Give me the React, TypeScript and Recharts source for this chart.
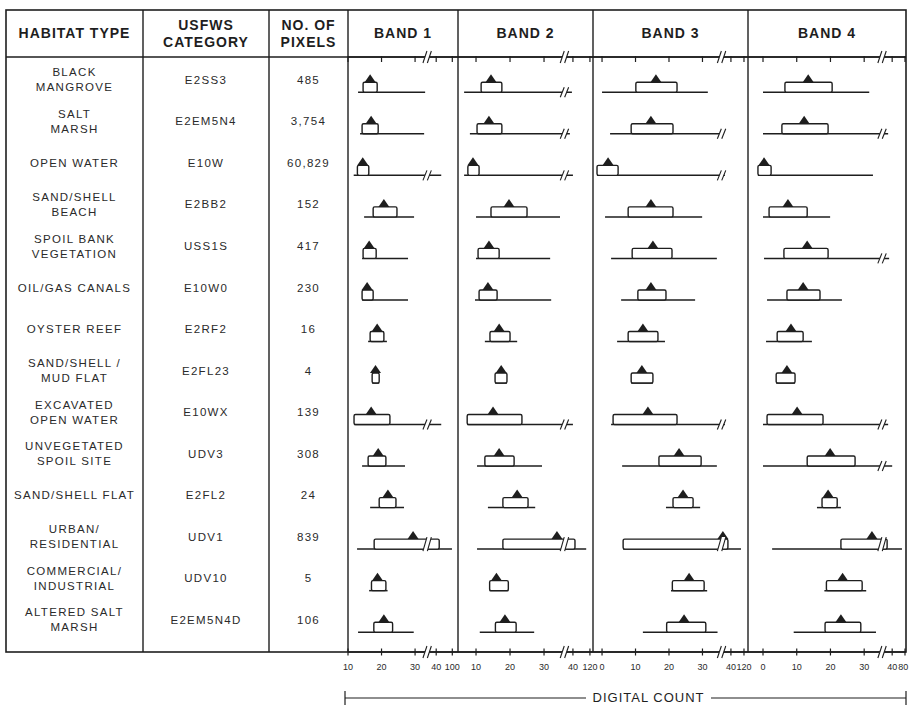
import React from "react";
import { ComposedChart, Bar, XAxis, YAxis } from "recharts";

const INK = "#1e1e1e";
const FONT = "'Liberation Sans', Arial, Helvetica, sans-serif";

const habitats = [
  "BLACK\nMANGROVE",
  "SALT\nMARSH",
  "OPEN WATER",
  "SAND/SHELL\nBEACH",
  "SPOIL BANK\nVEGETATION",
  "OIL/GAS CANALS",
  "OYSTER REEF",
  "SAND/SHELL /\nMUD FLAT",
  "EXCAVATED\nOPEN WATER",
  "UNVEGETATED\nSPOIL SITE",
  "SAND/SHELL FLAT",
  "URBAN/\nRESIDENTIAL",
  "COMMERCIAL/\nINDUSTRIAL",
  "ALTERED SALT\nMARSH",
];
const usfws = ["E2SS3", "E2EM5N4", "E10W", "E2BB2", "USS1S", "E10W0", "E2RF2", "E2FL23", "E10WX", "UDV3", "E2FL2", "UDV1", "UDV10", "E2EM5N4D"];
const pixelCounts = ["485", "3,754", "60,829", "152", "417", "230", "16", "4", "139", "308", "24", "839", "5", "106"];

// per habitat: [min, box low, mean, box high, max] in axis units
// (past the break the axis is compressed, see the tick arrays)
const band1 = [
  [13.0, 14.5, 16.6, 18.7, 33.0],
  [13.6, 14.2, 16.9, 19.0, 32.7],
  [11.7, 12.8, 14.4, 16.2, 37.8],
  [14.8, 17.5, 20.7, 24.6, 29.7],
  [14.2, 14.5, 16.3, 18.4, 27.9],
  [14.2, 14.2, 15.7, 17.5, 27.9],
  [16.0, 16.6, 18.7, 20.7, 21.6],
  [17.2, 17.2, 18.2, 19.3, 19.3],
  [11.8, 11.8, 16.9, 22.5, 37.8],
  [14.2, 16.0, 19.0, 21.3, 27.0],
  [16.6, 19.3, 21.9, 24.3, 26.7],
  [12.7, 17.8, 29.4, 37.2, 41.0],
  [16.3, 17.0, 18.8, 21.3, 21.8],
  [13.0, 17.7, 20.7, 23.3, 29.6],
];
const band2 = [
  [6.5, 11.5, 14.4, 17.6, 38.2],
  [8.2, 10.3, 13.8, 17.6, 37.6],
  [6.5, 7.6, 9.1, 10.9, 38.5],
  [10.0, 14.4, 19.7, 25.0, 34.7],
  [10.0, 10.6, 13.8, 16.8, 31.8],
  [9.7, 10.9, 13.5, 16.2, 32.1],
  [12.6, 14.1, 16.8, 20.0, 22.1],
  [15.6, 15.6, 17.4, 19.1, 19.1],
  [7.4, 7.4, 15.0, 23.5, 38.5],
  [10.3, 12.6, 16.8, 21.2, 29.4],
  [13.5, 17.9, 22.1, 25.3, 27.4],
  [10.3, 17.9, 33.8, 39.1, 42.4],
  [14.0, 14.0, 16.0, 19.5, 19.5],
  [11.1, 15.7, 18.5, 21.8, 27.1],
];
const band3 = [
  [0.0, 10.1, 16.1, 22.4, 31.6],
  [2.4, 8.7, 14.6, 21.2, 36.1],
  [-1.5, -1.5, 1.8, 4.8, 36.7],
  [0.9, 7.8, 14.6, 21.2, 29.9],
  [2.7, 9.0, 15.2, 20.9, 34.3],
  [5.7, 10.7, 14.6, 19.1, 27.8],
  [4.5, 7.8, 12.2, 16.7, 18.8],
  [8.7, 8.7, 11.9, 15.2, 15.2],
  [2.7, 3.3, 13.7, 22.4, 36.7],
  [6.0, 17.0, 23.0, 29.6, 34.3],
  [19.1, 21.2, 24.2, 27.2, 29.3],
  [6.3, 6.3, 36.1, 37.6, 41.5],
  [20.6, 21.0, 26.0, 30.5, 31.4],
  [12.2, 19.3, 24.5, 31.0, 34.5],
];
const band4 = [
  [0.0, 6.5, 13.4, 20.5, 31.5],
  [0.0, 5.6, 12.2, 19.3, 37.1],
  [-1.5, -1.5, 0.3, 2.4, 32.6],
  [0.0, 1.8, 7.4, 13.1, 19.9],
  [0.3, 6.2, 13.1, 19.3, 37.4],
  [1.2, 7.1, 11.9, 16.9, 23.4],
  [0.9, 4.2, 8.3, 11.9, 14.5],
  [3.9, 3.9, 7.1, 9.5, 9.5],
  [0.0, 1.2, 10.1, 17.8, 37.1],
  [0.0, 13.1, 19.9, 27.3, 38.3],
  [16.0, 17.5, 19.3, 22.0, 23.1],
  [2.7, 23.1, 32.3, 36.8, 41.2],
  [18.2, 18.8, 23.6, 29.4, 30.6],
  [9.1, 18.4, 23.1, 29.0, 33.5],
];

const band1Ticks = [10, 20, 30, 36.3, 41.1];
const band1Labels = ["10", "20", "30", "40", "100"];
const band2Ticks = [10, 20, 30, 38.5, 43.5];
const band2Labels = ["10", "20", "30", "40", "120"];
const band3Ticks = [0, 10, 20, 30, 38.5, 42.4];
const band3Labels = ["0", "10", "20", "30", "40", "120"];
const band4Ticks = [0, 10, 20, 30, 38.3, 42.1];
const band4Labels = ["0", "10", "20", "30", "40", "80"];
const axisBreaks = [33.6, 36.0, 35.7, 35.3];

// layout
const COLS = [6, 143, 269, 348, 458, 593, 748, 906];
const TOP = 10;
const HEAD = 57;
const BOTTOM = 652;
const ROW0 = 80.4;
const ROWH = 41.53;
const PAD_TOP = ROW0 - ROWH / 2 - HEAD;
const PAD_BOTTOM = BOTTOM - (ROW0 - ROWH / 2 + habitats.length * ROWH);
const BASE = 12;
const BOX_H = 10;

const bands = [
  { title: "BAND 1", stats: band1, ticks: band1Ticks, labels: band1Labels, brk: axisBreaks[0], domain: [10, 42.8] },
  { title: "BAND 2", stats: band2, ticks: band2Ticks, labels: band2Labels, brk: axisBreaks[1], domain: [4.7, 44.4] },
  { title: "BAND 3", stats: band3, ticks: band3Ticks, labels: band3Labels, brk: axisBreaks[2], domain: [-2.7, 43.6] },
  { title: "BAND 4", stats: band4, ticks: band4Ticks, labels: band4Labels, brk: axisBreaks[3], domain: [-4.45, 42.4] },
];

const BreakGlyph = ({ cx, y1, y2 }: { cx: number; y1: number; y2: number }) => {
  const s = 2;
  const g = 2.2;
  return (
    <g>
      <path d={`M${cx - g - s},${y1} L${cx - g + s},${y2} L${cx + g + s},${y2} L${cx + g - s},${y1} Z`} fill="#fff" />
      <line x1={cx - g - s} y1={y1} x2={cx - g + s} y2={y2} stroke={INK} strokeWidth={1.1} />
      <line x1={cx + g - s} y1={y1} x2={cx + g + s} y2={y2} stroke={INK} strokeWidth={1.1} />
    </g>
  );
};

const RangeShape = (p: any) => {
  const yb = p.y + p.height / 2 + BASE;
  return <line x1={p.x} x2={p.x + p.width} y1={yb} y2={yb} stroke={INK} strokeWidth={1.5} />;
};

const BoxShape = (p: any) => {
  const yb = p.y + p.height / 2 + BASE;
  return (
    <rect x={p.x} y={yb - BOX_H} width={Math.max(p.width, 1)} height={BOX_H} rx={1.5}
      fill="#fff" stroke={INK} strokeWidth={1.4} />
  );
};

const MeanShape = (p: any) => {
  const yt = p.y + p.height / 2 + BASE - BOX_H;
  const cx = p.x;
  return <path d={`M${cx - 5.5},${yt} L${cx},${yt - 8} L${cx + 5.5},${yt} Z`} fill={INK} />;
};

const CutShape = (p: any) => {
  if (!p.payload.cut) return null;
  const yb = p.y + p.height / 2 + BASE;
  if (p.payload.inBox) return <BreakGlyph cx={p.x} y1={yb + 2} y2={yb - BOX_H - 2} />;
  return <BreakGlyph cx={p.x} y1={yb + 5} y2={yb - 5} />;
};

const makeTick = (ticks: number[], labels: string[], brk: number, top: boolean, maxX: number) => (p: any) => {
  const v = p.payload.value;
  const { x, y } = p;
  if (v === brk) return <BreakGlyph cx={x} y1={y + 6} y2={y - 6} />;
  const label = labels[ticks.indexOf(v)];
  const tx = Math.min(x, maxX - label.length * 2.6 - 0.5);
  return (
    <g>
      <line x1={x} x2={x} y1={top ? y - 1 : y - 3.5} y2={top ? y + 5 : y + 3.5} stroke={INK} strokeWidth={1.2} />
      {!top && (
        <text x={tx} y={y + 18} textAnchor="middle" fontSize={9} fontFamily={FONT} fill="#2a2a2a">
          {label}
        </text>
      )}
    </g>
  );
};

const BandChart = ({ band, index }: { band: any; index: number }) => {
  const left = COLS[3 + index];
  const right = COLS[4 + index];
  const mr = index === 3 ? 3 : 8;
  const width = right - left + 8 + mr;
  const data = habitats.map((h, i) => {
    const [min, lo, mean, hi, max] = band.stats[i];
    return {
      name: h,
      range: [min, max],
      box: [lo, hi],
      mean: [mean, mean],
      cut: max > band.brk,
      inBox: lo < band.brk && band.brk < hi,
      brkAt: [band.brk, band.brk],
    };
  });
  const allTicks = [...band.ticks, band.brk];
  return (
    <div style={{ position: "absolute", left: left - 8, top: HEAD - 10 }}>
      <ComposedChart
        width={width}
        height={10 + (BOTTOM - HEAD) + 30}
        data={data}
        layout="vertical"
        margin={{ top: 0, bottom: 0, left: 8, right: mr }}
      >
        <XAxis xAxisId="top" orientation="top" type="number" domain={band.domain} allowDataOverflow
          ticks={allTicks} interval={0} height={10} tickSize={0} tickMargin={0} tickLine={false}
          axisLine={{ stroke: INK, strokeWidth: 1.6 }} tick={makeTick(band.ticks, band.labels, band.brk, true, width)} />
        <XAxis xAxisId="bottom" orientation="bottom" type="number" domain={band.domain} allowDataOverflow
          ticks={allTicks} interval={0} height={30} tickSize={0} tickMargin={0} tickLine={false}
          axisLine={{ stroke: INK, strokeWidth: 1.6 }} tick={makeTick(band.ticks, band.labels, band.brk, false, width)} />
        {["a", "b", "c", "d"].map((id) => (
          <YAxis key={id} yAxisId={id} type="category" dataKey="name" hide
            padding={{ top: PAD_TOP, bottom: PAD_BOTTOM }} />
        ))}
        <Bar xAxisId="bottom" yAxisId="a" dataKey="range" shape={RangeShape} isAnimationActive={false} />
        <Bar xAxisId="bottom" yAxisId="b" dataKey="box" shape={BoxShape} isAnimationActive={false} />
        <Bar xAxisId="bottom" yAxisId="c" dataKey="mean" shape={MeanShape} isAnimationActive={false} />
        <Bar xAxisId="bottom" yAxisId="d" dataKey="brkAt" shape={CutShape} isAnimationActive={false} />
      </ComposedChart>
    </div>
  );
};

const cellText: React.CSSProperties = {
  position: "absolute",
  textAlign: "center",
  whiteSpace: "pre",
  fontFamily: FONT,
  color: "#2a2a2a",
};

export default function App() {
  const headStyle: React.CSSProperties = {
    ...cellText,
    fontSize: 14,
    fontWeight: 700,
    letterSpacing: 1,
    lineHeight: "17px",
    color: INK,
  };
  const headers = ["HABITAT TYPE", "USFWS\nCATEGORY", "NO. OF\nPIXELS", ...bands.map((b) => b.title)];
  const columns = [habitats, usfws, pixelCounts];
  return (
    <div style={{ position: "absolute", left: 0, top: 0, width: 909, height: 709, background: "#fff", overflow: "hidden" }}>
      <svg width={909} height={709} style={{ position: "absolute", left: 0, top: 0 }}>
        <rect x={COLS[0]} y={TOP} width={COLS[7] - COLS[0]} height={BOTTOM - TOP} fill="none" stroke={INK} strokeWidth={1.6} />
        <line x1={COLS[0]} x2={COLS[7]} y1={HEAD} y2={HEAD} stroke={INK} strokeWidth={1.6} />
        {COLS.slice(1, 7).map((x) => (
          <line key={x} x1={x} x2={x} y1={TOP} y2={BOTTOM} stroke={INK} strokeWidth={1.4} />
        ))}
        <line x1={345} x2={345} y1={691} y2={705} stroke={INK} strokeWidth={1.2} />
        <line x1={345} x2={586} y1={698} y2={698} stroke={INK} strokeWidth={1.1} />
        <line x1={711} x2={906} y1={698} y2={698} stroke={INK} strokeWidth={1.1} />
        <line x1={906} x2={906} y1={691} y2={705} stroke={INK} strokeWidth={1.2} />
      </svg>

      {headers.map((h, i) => {
        const lines = h.split("\n").length;
        return (
          <div key={h} style={{ ...headStyle, left: COLS[i], width: COLS[i + 1] - COLS[i], top: (TOP + HEAD) / 2 - (lines * 17) / 2 }}>
            {h}
          </div>
        );
      })}

      {columns.map((col, c) =>
        col.map((t, i) => {
          const lines = t.split("\n").length;
          return (
            <div key={c + "-" + i} style={{
              ...cellText, fontSize: 11.5, letterSpacing: 1.3, lineHeight: "15px",
              left: COLS[c], width: COLS[c + 1] - COLS[c], top: ROW0 + i * ROWH - (lines * 15) / 2,
            }}>
              {t}
            </div>
          );
        })
      )}

      {bands.map((b, i) => (
        <BandChart key={b.title} band={b} index={i} />
      ))}

      <div style={{ ...cellText, left: 586, width: 125, top: 690, fontSize: 13, letterSpacing: 1, lineHeight: "16px", color: INK }}>
        DIGITAL COUNT
      </div>
    </div>
  );
}
